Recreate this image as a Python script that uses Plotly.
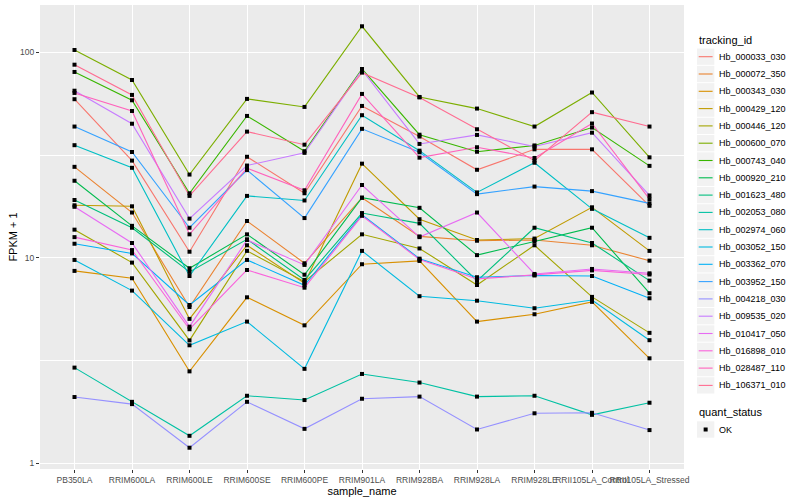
import plotly.graph_objects as go

samples = ["PB350LA", "RRIM600LA", "RRIM600LE", "RRIM600SE", "RRIM600PE", "RRIM901LA",
           "RRIM928BA", "RRIM928LA", "RRIM928LE", "RRII105LA_Control", "RRII105LA_Stressed"]

tracking_ids = ["Hb_000033_030", "Hb_000072_350", "Hb_000343_030", "Hb_000429_120", "Hb_000446_120",
                "Hb_000600_070", "Hb_000743_040", "Hb_000920_210", "Hb_001623_480", "Hb_002053_080",
                "Hb_002974_060", "Hb_003052_150", "Hb_003362_070", "Hb_003952_150", "Hb_004218_030",
                "Hb_009535_020", "Hb_010417_050", "Hb_016898_010", "Hb_028487_110", "Hb_106371_010"]

colors = ["#F8766D", "#EA8331", "#D89000", "#C09B00", "#A3A500", "#7CAE00", "#39B600", "#00BB4E",
          "#00BF7D", "#00C1A3", "#00BFC4", "#00BAE0", "#00B0F6", "#35A2FF", "#9590FF", "#C77CFF",
          "#E76BF3", "#FA62DB", "#FF62BC", "#FF6C91"]

hb_000033_030 = [59.1, 29.7, 10.7, 31.0, 20.6, 54.8, 38.9, 26.8, 33.7, 33.7, 17.9]
hb_000072_350 = [27.7, 16.6, 5.76, 15.1, 9.40, 19.6, 12.7, 12.1, 12.2, 11.5, 9.68]
hb_000343_030 = [8.63, 7.95, 2.80, 6.42, 4.69, 9.30, 9.65, 4.89, 5.31, 6.10, 3.24]
hb_000429_120 = [18.0, 17.8, 5.04, 11.5, 7.51, 28.7, 15.4, 12.2, 12.4, 17.6, 10.8]
hb_000446_120 = [13.7, 9.47, 3.96, 10.8, 7.65, 13.0, 11.1, 7.37, 11.5, 6.45, 4.31]
hb_000600_070 = [102.6, 73.3, 25.4, 59.3, 54.2, 133.8, 60.6, 53.2, 43.5, 63.7, 30.8]
hb_000743_040 = [80.2, 58.4, 20.6, 49.0, 33.0, 82.9, 39.7, 32.8, 35.2, 43.0, 28.0]
hb_000920_210 = [23.7, 14.3, 8.89, 13.0, 8.27, 19.6, 17.5, 10.3, 12.0, 14.0, 6.72]
hb_001623_480 = [19.1, 14.0, 8.53, 12.3, 7.80, 16.5, 14.7, 7.71, 14.0, 11.8, 7.74]
hb_002053_080 = [2.92, 1.99, 1.36, 2.13, 2.03, 2.72, 2.47, 2.11, 2.13, 1.72, 1.97]
hb_002974_060 = [35.3, 27.4, 8.15, 20.0, 19.0, 49.4, 33.2, 20.8, 29.0, 17.3, 12.5]
hb_003052_150 = [9.76, 6.92, 3.75, 4.89, 2.88, 10.8, 6.50, 6.18, 5.68, 6.23, 3.97]
hb_003362_070 = [11.7, 10.5, 5.89, 9.76, 7.35, 16.2, 9.90, 8.04, 8.20, 8.15, 6.35]
hb_003952_150 = [43.5, 32.7, 14.0, 26.7, 15.6, 42.4, 32.6, 20.4, 22.2, 21.1, 18.4]
hb_004218_030 = [2.10, 1.94, 1.19, 1.99, 1.47, 2.06, 2.11, 1.46, 1.75, 1.76, 1.45]
hb_009535_020 = [65.0, 44.9, 15.5, 28.1, 32.4, 82.0, 35.8, 39.6, 34.8, 40.6, 20.1]
hb_010417_050 = [17.7, 11.8, 4.62, 12.2, 9.23, 22.6, 12.6, 16.6, 8.34, 8.82, 8.40]
hb_016898_010 = [12.6, 10.9, 4.49, 8.72, 7.15, 16.0, 9.80, 7.89, 8.25, 8.68, 8.29]
hb_028487_110 = [63.4, 51.8, 13.0, 27.3, 21.3, 62.7, 30.7, 34.5, 30.6, 45.0, 19.3]
hb_106371_010 = [87.0, 62.0, 20.0, 41.1, 35.5, 79.6, 60.3, 42.2, 29.7, 51.1, 43.5]

series_values = [hb_000033_030, hb_000072_350, hb_000343_030, hb_000429_120, hb_000446_120,
                 hb_000600_070, hb_000743_040, hb_000920_210, hb_001623_480, hb_002053_080,
                 hb_002974_060, hb_003052_150, hb_003362_070, hb_003952_150, hb_004218_030,
                 hb_009535_020, hb_010417_050, hb_016898_010, hb_028487_110, hb_106371_010]

quant_status = ["OK"]
y_tick_vals = [1, 10, 100]
y_tick_text = ["1", "10", "100"]
y_minor_vals = [10 ** 0.5, 10 ** 1.5]

FONT = "Liberation Sans, Arial, sans-serif"
W, H = 800, 500
ML, MR, MT, MB = 40, 116, 5, 31
PW, PH = W - ML - MR, H - MT - MB


def px(x):
    return (x - ML) / PW


def py(y):
    return (H - MB - y) / PH


fig = go.Figure()
for name, vals, col in zip(tracking_ids, series_values, colors):
    fig.add_trace(go.Scatter(x=samples, y=vals, mode="lines", name=name,
                             line=dict(color=col, width=1.1), showlegend=False))

pts_x = [s for vals in series_values for s in samples]
pts_y = [v for vals in series_values for v in vals]
fig.add_trace(go.Scatter(x=pts_x, y=pts_y, mode="markers", name=quant_status[0],
                         marker=dict(symbol="square", size=4.0, color="black"),
                         showlegend=False))

# ---- legend drawn as shapes + text (ggplot style keys) ----
shapes = []
annotations = []
LX0, KEY = 697, 17.3
first_y = 56.7
annotations.append(dict(text="tracking_id", x=px(LX0), y=py(39.5), xref="paper", yref="paper",
                        xanchor="left", yanchor="middle", showarrow=False,
                        font=dict(size=11, color="black", family=FONT)))
for i, (name, col) in enumerate(zip(tracking_ids, colors)):
    cy = first_y + KEY * i
    shapes.append(dict(type="rect", xref="paper", yref="paper",
                       x0=px(LX0), x1=px(LX0 + KEY), y0=py(cy - KEY / 2 + 0.5), y1=py(cy + KEY / 2 - 0.5),
                       fillcolor="#F2F2F2", line=dict(width=0), layer="above"))
    shapes.append(dict(type="line", xref="paper", yref="paper",
                       x0=px(LX0 + 1.7), x1=px(LX0 + KEY - 1.7), y0=py(cy), y1=py(cy),
                       line=dict(color=col, width=1.1), layer="above"))
    annotations.append(dict(text=name, x=px(LX0 + KEY + 3), y=py(cy), xref="paper", yref="paper",
                            xanchor="left", yanchor="middle", showarrow=False,
                            font=dict(size=9, color="black", family=FONT)))

annotations.append(dict(text="quant_status", x=px(LX0), y=py(412), xref="paper", yref="paper",
                        xanchor="left", yanchor="middle", showarrow=False,
                        font=dict(size=11, color="black", family=FONT)))
ok_y = 429.5
shapes.append(dict(type="rect", xref="paper", yref="paper",
                   x0=px(LX0), x1=px(LX0 + KEY), y0=py(ok_y - KEY / 2 + 0.5), y1=py(ok_y + KEY / 2 - 0.5),
                   fillcolor="#F2F2F2", line=dict(width=0), layer="above"))
shapes.append(dict(type="rect", xref="paper", yref="paper",
                   x0=px(LX0 + KEY / 2 - 2), x1=px(LX0 + KEY / 2 + 2), y0=py(ok_y - 2), y1=py(ok_y + 2),
                   fillcolor="black", line=dict(width=0), layer="above"))
annotations.append(dict(text=quant_status[0], x=px(LX0 + KEY + 3), y=py(ok_y), xref="paper", yref="paper",
                        xanchor="left", yanchor="middle", showarrow=False,
                        font=dict(size=9, color="black", family=FONT)))

fig.update_layout(
    width=W, height=H,
    margin=dict(l=ML, r=MR, t=MT, b=MB),
    paper_bgcolor="white", plot_bgcolor="#EBEBEB",
    font=dict(family=FONT, size=11, color="black"),
    showlegend=False,
    xaxis=dict(type="category", range=[-0.6, 10.6], showgrid=True, gridcolor="white", gridwidth=1.1,
               ticks="outside", ticklen=3, tickcolor="#333333", tickwidth=1, tickangle=0,
               tickfont=dict(size=8.5, color="#4D4D4D"), zeroline=False, showline=False,
               title=dict(text="sample_name", font=dict(size=11), standoff=0), automargin=False),
    yaxis=dict(type="log", range=[-0.028, 2.230], tickvals=y_tick_vals, ticktext=y_tick_text,
               showgrid=True, gridcolor="white", gridwidth=1.1,
               ticks="outside", ticklen=3, tickcolor="#333333", tickwidth=1,
               tickfont=dict(size=8.5, color="#4D4D4D"), zeroline=False, showline=False,
               minor=dict(tickvals=y_minor_vals, showgrid=True, gridcolor="white", gridwidth=0.5, ticks=""),
               title=dict(text="FPKM + 1", font=dict(size=11), standoff=0), automargin=False),
    shapes=shapes,
    annotations=annotations,
)

fig.write_html("out.html", config={"displayModeBar": False},
               post_script="document.body.style.margin='0';")
